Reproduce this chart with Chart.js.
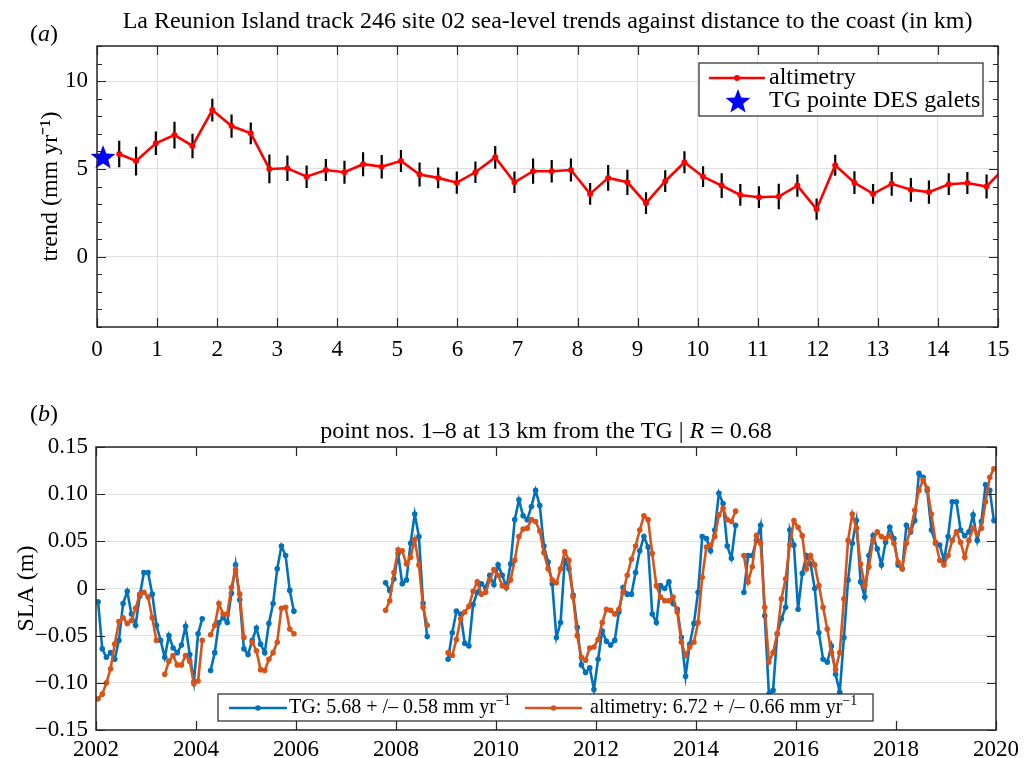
<!DOCTYPE html>
<html>
<head>
<meta charset="utf-8">
<script src="https://cdn.jsdelivr.net/npm/chart.js@4.4.0/dist/chart.umd.min.js"></script>
<style>
  body { margin: 0; background: #fff; }
  #wrap { position: relative; width: 1025px; height: 758px; }
  .panel { position: absolute; left: 0; width: 1025px; }
  #top { top: 0; height: 380px; }
  #bot { top: 380px; height: 378px; }
</style>
</head>
<body>
<div id="wrap">
  <div class="panel" id="top"><canvas id="trendChart"></canvas></div>
  <div class="panel" id="bot"><canvas id="slaChart"></canvas></div>
</div>
<script>
// (a) trend against distance to the coast (km)
const distances = [0.37, 0.65, 0.98, 1.29, 1.59, 1.92, 2.24, 2.56, 2.87, 3.17, 3.49, 3.81, 4.12, 4.43, 4.74, 5.06,
  5.37, 5.68, 5.99, 6.30, 6.63, 6.95, 7.26, 7.57, 7.89, 8.21, 8.51, 8.83, 9.14, 9.46, 9.78, 10.09, 10.40, 10.71,
  11.02, 11.35, 11.66, 11.98, 12.29, 12.61, 12.92, 13.23, 13.55, 13.85, 14.18, 14.49, 14.81, 15.12];
const trends = [5.85, 5.45, 6.46, 6.93, 6.31, 8.35, 7.44, 7.03, 5.00, 5.04, 4.56, 4.94, 4.81, 5.27, 5.13, 5.45,
  4.68, 4.49, 4.22, 4.81, 5.66, 4.24, 4.87, 4.87, 4.94, 3.58, 4.49, 4.24, 3.05, 4.30, 5.38, 4.56, 4.05, 3.52,
  3.39, 3.43, 4.05, 2.71, 5.21, 4.22, 3.58, 4.15, 3.81, 3.68, 4.13, 4.20, 4.00, 5.10];
const trendErrors = [0.75, 0.82, 0.67, 0.76, 0.70, 0.65, 0.66, 0.62, 0.82, 0.73, 0.64, 0.62, 0.65, 0.68, 0.67, 0.63,
  0.68, 0.59, 0.63, 0.61, 0.65, 0.61, 0.72, 0.64, 0.66, 0.62, 0.73, 0.72, 0.62, 0.62, 0.63, 0.59, 0.71, 0.62,
  0.62, 0.73, 0.63, 0.61, 0.60, 0.65, 0.56, 0.68, 0.68, 0.66, 0.62, 0.63, 0.69, 0.65];
const tgDistance = [0.1];
const tgTrend = [5.68];

// (b) monthly SLA (m), Jan 2002 .. Dec 2019, one row per year
const slaStartYear = 2002;
const tgSla = [
  -0.014, -0.064, -0.073, -0.068, -0.075, -0.055, -0.016, -0.003, -0.027, -0.039, -0.008, 0.017,
  0.017, -0.006, -0.039, -0.055, -0.073, -0.050, -0.063, -0.068, -0.060, -0.040, -0.070, -0.099,
  -0.048, -0.032, null, -0.087, -0.068, -0.036, -0.031, -0.036, -0.005, 0.025, -0.012, -0.064,
  -0.070, -0.055, -0.042, -0.059, -0.068, -0.037, -0.016, 0.021, 0.045, 0.035, -0.002, -0.024,
  null, null, null, null, null, null, null, null, null, null, null, null,
  null, null, null, null, null, null, null, null, null, 0.006, -0.002, 0.010,
  0.037, 0.005, 0.009, 0.048, 0.079, 0.055, -0.016, -0.051, null, null, null, null,
  -0.075, -0.047, -0.024, -0.027, -0.058, -0.061, -0.017, -0.004, 0.005, 0.001, 0.014, 0.004,
  0.025, 0.014, 0.001, 0.026, 0.073, 0.094, 0.077, 0.073, 0.087, 0.104, 0.088, 0.045,
  0.028, 0.005, -0.052, -0.036, 0.030, 0.021, -0.007, -0.041, -0.081, -0.089, -0.084, -0.107,
  -0.075, -0.045, -0.056, -0.060, -0.055, -0.025, 0.001, -0.006, -0.006, 0.017, 0.040, 0.055,
  0.044, -0.027, -0.036, 0.003, 0.000, 0.007, -0.016, -0.022, -0.052, -0.093, -0.059, -0.037,
  -0.004, 0.055, 0.053, 0.040, 0.062, 0.101, 0.090, 0.045, 0.032, 0.067, null, -0.004,
  0.035, 0.035, 0.051, 0.067, -0.029, -0.112, -0.108, -0.048, -0.032, -0.020, 0.062, 0.046,
  -0.022, 0.016, 0.035, 0.026, 0.000, -0.047, -0.075, -0.078, -0.061, -0.091, -0.110, -0.052,
  0.009, 0.048, 0.072, 0.007, -0.009, 0.035, 0.056, 0.042, 0.025, 0.049, 0.065, 0.053,
  0.025, 0.021, 0.067, 0.060, 0.072, 0.122, 0.118, 0.104, 0.062, 0.048, 0.046, 0.030,
  0.055, 0.092, 0.092, 0.062, 0.056, 0.060, 0.078, 0.051, 0.071, 0.110, 0.104, 0.072
];
const altiSla = [
  -0.117, -0.112, -0.100, -0.085, -0.059, -0.035, -0.031, -0.037, -0.034, -0.021, -0.006, -0.004,
  -0.009, -0.031, -0.055, null, -0.091, -0.077, -0.071, -0.081, -0.081, -0.071, -0.077, -0.101,
  -0.098, -0.055, null, -0.049, -0.039, -0.016, -0.027, -0.027, 0.001, 0.020, -0.006, -0.052,
  null, -0.057, -0.066, -0.086, -0.087, -0.075, -0.068, -0.057, -0.021, -0.020, -0.043, -0.048,
  null, null, null, null, null, null, null, null, null, null, null, null,
  null, null, null, null, null, null, null, null, null, -0.023, -0.013, 0.017,
  0.041, 0.040, 0.026, 0.033, 0.052, 0.025, -0.020, -0.039, null, null, null, null,
  -0.068, -0.071, -0.054, -0.032, -0.025, -0.019, -0.003, 0.007, -0.006, -0.004, 0.009, 0.020,
  0.014, 0.003, 0.001, 0.009, 0.030, 0.055, 0.063, 0.064, 0.073, 0.071, 0.061, 0.038,
  0.021, 0.009, 0.006, 0.021, 0.039, 0.030, -0.009, -0.050, -0.073, -0.076, -0.063, -0.062,
  -0.054, -0.036, -0.022, -0.023, -0.027, -0.022, -0.004, 0.014, 0.031, 0.045, 0.062, 0.077,
  0.073, 0.037, 0.003, -0.009, -0.013, -0.013, -0.009, -0.025, -0.057, -0.071, -0.062, -0.057,
  -0.036, 0.012, 0.044, 0.046, 0.055, 0.078, 0.085, 0.073, 0.071, 0.082, null, 0.035,
  0.007, 0.023, 0.056, 0.048, -0.020, -0.078, -0.068, -0.048, -0.011, 0.010, 0.046, 0.072,
  0.065, 0.056, 0.021, 0.035, 0.025, 0.003, -0.020, -0.043, -0.068, -0.086, -0.068, -0.011,
  0.051, 0.079, 0.064, 0.026, 0.003, 0.023, 0.051, 0.060, 0.055, 0.053, 0.056, 0.048,
  0.028, 0.021, 0.048, 0.062, 0.083, 0.104, 0.115, 0.106, 0.079, 0.049, 0.030, 0.025,
  0.035, 0.051, 0.060, 0.049, 0.033, 0.051, 0.064, 0.058, 0.064, 0.092, 0.118, 0.127
];
const slaYears = tgSla.map((_, i) => slaStartYear + (i + 0.5) / 12);

const serif = "'Liberation Serif', 'Times New Roman', serif";
const axisColor = '#262626';
const gridColor = '#e1e1e1';

const makeStar = (size, color) => {
  const c = document.createElement('canvas');
  c.width = c.height = size;
  const g = c.getContext('2d');
  const R = size / 2 - 1, r = R * 0.42, cx = size / 2, cy = size / 2 + 1;
  g.beginPath();
  for (let k = 0; k < 10; k++) {
    const ang = -Math.PI / 2 + k * Math.PI / 5;
    const rad = k % 2 === 0 ? R : r;
    g.lineTo(cx + rad * Math.cos(ang), cy + rad * Math.sin(ang));
  }
  g.closePath();
  g.fillStyle = color;
  g.fill();
  return c;
};
const starImg = makeStar(28, '#0000ff');

// text with italic / superscript pieces
const drawRich = (ctx, parts, x, y, size, align) => {
  const fontOf = (p) => `${p.i ? 'italic ' : ''}${p.sup ? Math.round(size * 0.68) : size}px ${serif}`;
  let total = 0;
  const widths = parts.map((p) => {
    ctx.font = fontOf(p);
    const w = ctx.measureText(p.t).width;
    total += w;
    return w;
  });
  let cx = align === 'center' ? x - total / 2 : x;
  ctx.textAlign = 'left';
  ctx.textBaseline = 'middle';
  parts.forEach((p, k) => {
    ctx.font = fontOf(p);
    ctx.fillText(p.t, cx, p.sup ? y - size * 0.32 : y);
    cx += widths[k];
  });
};
const labelParts = (label) =>
  label.includes('⁻¹') ? [{ t: label.replace('⁻¹', '') }, { t: '−1', sup: true }] : [{ t: label }];

// panel title and (a)/(b) letter
const panelText = (title, titleY, letter) => ({
  id: 'panelText',
  afterDraw(chart) {
    const { ctx, chartArea: a } = chart;
    ctx.save();
    ctx.fillStyle = '#000';
    drawRich(ctx, title, (a.left + a.right) / 2, titleY, 24, 'center');
    drawRich(ctx, [{ t: '(' }, { t: letter, i: true }, { t: ')' }], 30, 35, 24, 'left');
    ctx.restore();
  },
});

// MATLAB-like box with inward ticks
const axesBox = (xLen, yLen, yMinorLen, yMajorEvery) => ({
  id: 'axesBox',
  afterDatasetsDraw(chart) {
    const { ctx, chartArea: a, scales } = chart;
    ctx.save();
    ctx.strokeStyle = axisColor;
    ctx.lineWidth = 1.2;
    ctx.beginPath();
    scales.x.ticks.forEach((t) => {
      const px = Math.round(scales.x.getPixelForValue(t.value)) + 0.5;
      ctx.moveTo(px, a.bottom); ctx.lineTo(px, a.bottom - xLen);
      ctx.moveTo(px, a.top); ctx.lineTo(px, a.top + xLen);
    });
    scales.y.ticks.forEach((t) => {
      const py = Math.round(scales.y.getPixelForValue(t.value)) + 0.5;
      const major = !yMajorEvery || Math.abs(t.value / yMajorEvery - Math.round(t.value / yMajorEvery)) < 1e-6;
      const len = major ? yLen : yMinorLen;
      ctx.moveTo(a.left, py); ctx.lineTo(a.left + len, py);
      ctx.moveTo(a.right, py); ctx.lineTo(a.right - len, py);
    });
    ctx.stroke();
    ctx.lineWidth = 1.5;
    ctx.strokeRect(a.left, a.top, a.right - a.left, a.bottom - a.top);
    ctx.restore();
  },
});

// legend drawn inside the axes with a framed box
const boxLegend = (box, rows, size) => ({
  id: 'boxLegend',
  afterDraw(chart) {
    const ctx = chart.ctx;
    ctx.save();
    ctx.fillStyle = '#fff';
    ctx.fillRect(box[0], box[1], box[2] - box[0], box[3] - box[1]);
    ctx.strokeStyle = axisColor;
    ctx.lineWidth = 1.2;
    ctx.strokeRect(box[0], box[1], box[2] - box[0], box[3] - box[1]);
    rows.forEach((r) => {
      const ds = chart.data.datasets[r.ds];
      if (r.line) {
        ctx.strokeStyle = ds.borderColor;
        ctx.lineWidth = ds.borderWidth;
        ctx.beginPath();
        ctx.moveTo(r.line[0], r.y); ctx.lineTo(r.line[1], r.y);
        ctx.stroke();
        ctx.fillStyle = ds.borderColor;
        ctx.beginPath();
        ctx.arc((r.line[0] + r.line[1]) / 2, r.y, ds.pointRadius, 0, Math.PI * 2);
        ctx.fill();
      } else {
        ctx.drawImage(starImg, r.mark - starImg.width / 2, r.y - starImg.height / 2);
      }
      ctx.fillStyle = '#000';
      drawRich(ctx, labelParts(ds.label), r.tx, r.y, size, 'left');
    });
    ctx.restore();
  },
});

const errorBars = {
  id: 'errorBars',
  beforeDatasetsDraw(chart) {
    const { ctx, chartArea: a, scales: { x, y } } = chart;
    ctx.save();
    ctx.beginPath();
    ctx.rect(a.left, a.top, a.right - a.left, a.bottom - a.top);
    ctx.clip();
    ctx.strokeStyle = '#000';
    ctx.lineWidth = 2.2;
    ctx.beginPath();
    distances.forEach((d, i) => {
      const px = x.getPixelForValue(d);
      ctx.moveTo(px, y.getPixelForValue(trends[i] - trendErrors[i]));
      ctx.lineTo(px, y.getPixelForValue(trends[i] + trendErrors[i]));
    });
    ctx.stroke();
    ctx.restore();
  },
};

const tickFont = { family: serif, size: 23 };

new Chart(document.getElementById('trendChart'), {
  type: 'line',
  data: {
    datasets: [
      {
        label: 'altimetry',
        data: distances.map((d, i) => ({ x: d, y: trends[i] })),
        borderColor: '#ff0000',
        backgroundColor: '#ff0000',
        borderWidth: 2.6,
        pointRadius: 3,
        pointBorderWidth: 0,
        order: 1,
      },
      {
        label: 'TG pointe DES galets',
        data: tgDistance.map((d, i) => ({ x: d, y: tgTrend[i] })),
        showLine: false,
        pointStyle: starImg,
        clip: false,
        order: -1,
      },
    ],
  },
  options: {
    animation: false,
    responsive: true,
    maintainAspectRatio: false,
    events: [],
    layout: { padding: { top: 46, right: 27, left: 0, bottom: 0 } },
    plugins: { legend: { display: false }, tooltip: { enabled: false } },
    scales: {
      x: {
        type: 'linear',
        min: 0,
        max: 15,
        afterFit: (s) => { s.height = 53; },
        border: { display: false },
        grid: { color: gridColor, drawTicks: false },
        ticks: { stepSize: 1, color: '#000', font: tickFont, padding: 9, autoSkip: false, maxRotation: 0 },
      },
      y: {
        min: -4,
        max: 12,
        afterFit: (s) => { s.width = 97; },
        border: { display: false },
        grid: {
          drawTicks: false,
          color: (c) => (c.tick && c.tick.value % 5 === 0 ? gridColor : 'rgba(0,0,0,0)'),
        },
        ticks: {
          stepSize: 1,
          autoSkip: false,
          color: '#000',
          font: tickFont,
          padding: 9,
          callback: (v) => (v % 5 === 0 ? String(v) : ''),
        },
        title: {
          display: true,
          text: 'trend (mm yr⁻¹)',
          color: '#000',
          font: { family: serif, size: 24 },
          padding: { top: 36, bottom: 0 },
        },
      },
    },
  },
  plugins: [
    errorBars,
    axesBox(9, 9, 5, 5),
    panelText([{ t: 'La Reunion Island track 246 site 02 sea-level trends against distance to the coast (in km)' }], 22, 'a'),
    boxLegend([699, 63, 983, 116], [
      { ds: 0, y: 78, line: [709, 765], tx: 769 },
      { ds: 1, y: 101, mark: 738, tx: 769 },
    ], 24),
  ],
});

const fmtSla = (v) => (Math.abs(v) < 1e-9 ? '0' : (v < 0 ? '−' : '') + Math.abs(v).toFixed(2));

new Chart(document.getElementById('slaChart'), {
  type: 'line',
  data: {
    datasets: [
      {
        label: 'TG: 5.68 + /– 0.58 mm yr⁻¹',
        data: slaYears.map((x, i) => ({ x, y: tgSla[i] })),
        borderColor: '#0072bd',
        backgroundColor: '#0072bd',
        borderWidth: 2.6,
        pointRadius: 2.8,
        pointBorderWidth: 0,
        order: 1,
      },
      {
        label: 'altimetry: 6.72 + /– 0.66 mm yr⁻¹',
        data: slaYears.map((x, i) => ({ x, y: altiSla[i] })),
        borderColor: '#d95319',
        backgroundColor: '#d95319',
        borderWidth: 2.6,
        pointRadius: 2.8,
        pointBorderWidth: 0,
        order: 0,
      },
    ],
  },
  options: {
    animation: false,
    responsive: true,
    maintainAspectRatio: false,
    events: [],
    layout: { padding: { top: 67, right: 29, left: 0, bottom: 0 } },
    plugins: { legend: { display: false }, tooltip: { enabled: false } },
    scales: {
      x: {
        type: 'linear',
        min: 2002,
        max: 2020,
        afterFit: (s) => { s.height = 28; },
        border: { display: false },
        grid: { display: false, drawTicks: false },
        ticks: { stepSize: 2, color: '#000', font: tickFont, padding: 6, autoSkip: false, maxRotation: 0, callback: (v) => String(v) },
      },
      y: {
        min: -0.15,
        max: 0.15,
        afterFit: (s) => { s.width = 96; },
        border: { display: false },
        grid: { color: gridColor, drawTicks: false },
        ticks: { stepSize: 0.05, autoSkip: false, color: '#000', font: tickFont, padding: 8, callback: fmtSla },
        title: {
          display: true,
          text: 'SLA (m)',
          color: '#000',
          font: { family: serif, size: 24 },
          padding: { top: 12, bottom: 0 },
        },
      },
    },
  },
  plugins: [
    axesBox(9, 9, 9, 0),
    panelText([{ t: 'point nos. 1–8 at 13 km from the TG | ' }, { t: 'R', i: true }, { t: ' = 0.68' }], 52, 'b'),
    boxLegend([218, 314, 873, 341], [
      { ds: 0, y: 328, line: [229, 287], tx: 289 },
      { ds: 1, y: 328, line: [525, 582], tx: 590 },
    ], 20),
  ],
});
</script>
</body>
</html>
